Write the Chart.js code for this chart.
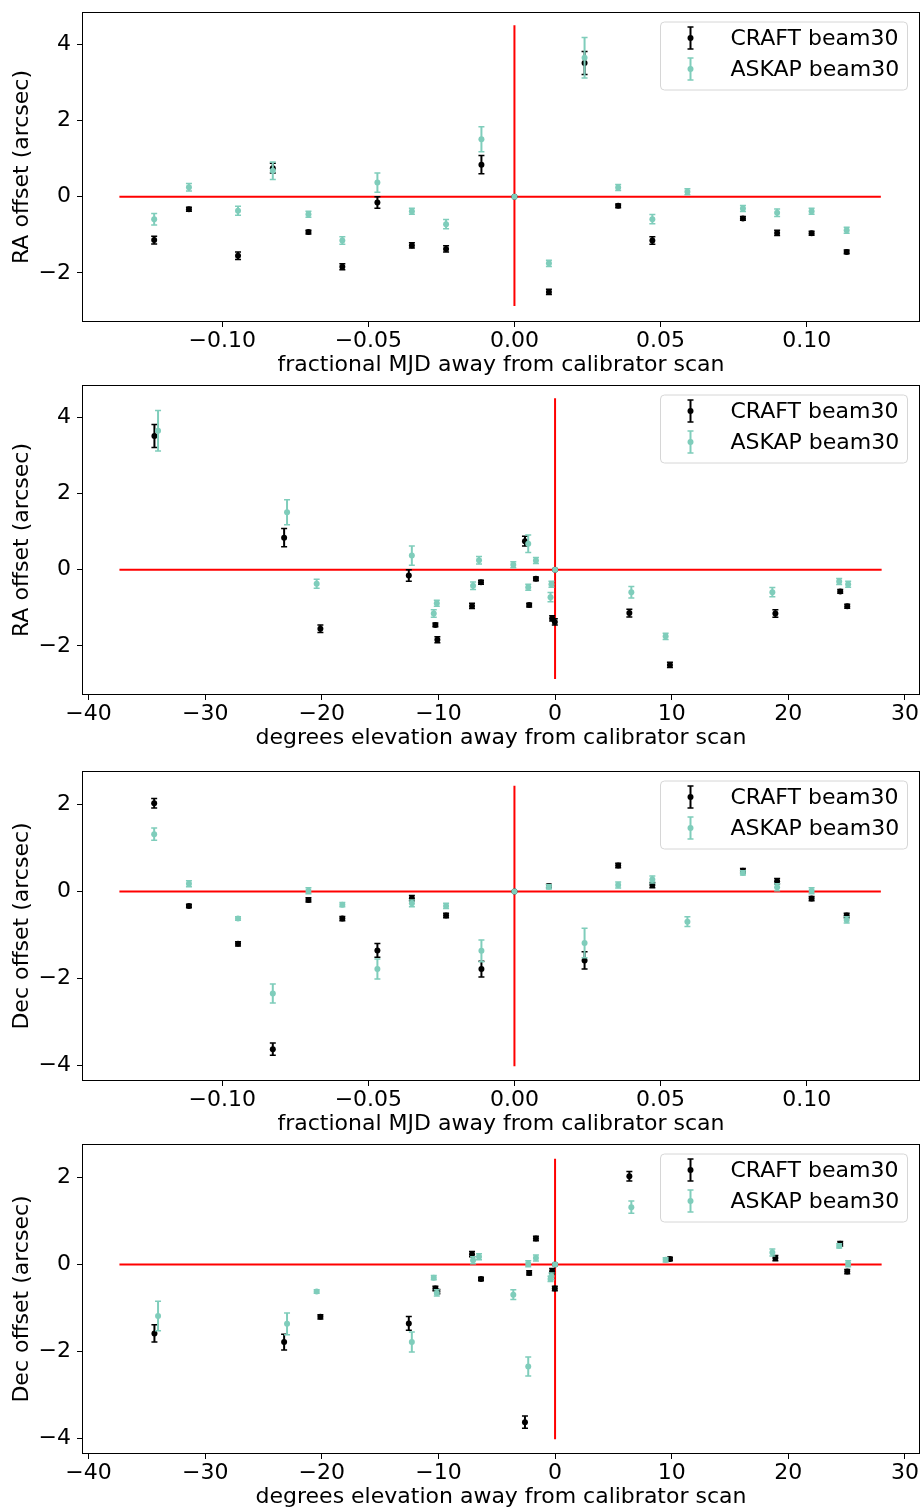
<!DOCTYPE html>
<html>
<head>
<meta charset="utf-8">
<title>beam30 position offsets</title>
<script src="https://cdn.jsdelivr.net/npm/chart.js@4.4.1/dist/chart.umd.min.js"></script>
<style>
  html, body { margin: 0; padding: 0; background: #fff; }
  body { width: 924px; height: 1508px; overflow: hidden; position: relative; }
  .panel { position: absolute; left: 0; width: 924px; height: 378px; }
</style>
</head>
<body>
<div class="panel" style="top:0px"><canvas id="raMjd"></canvas></div>
<div class="panel" style="top:373px"><canvas id="raElev"></canvas></div>
<div class="panel" style="top:759px"><canvas id="decMjd"></canvas></div>
<div class="panel" style="top:1132px"><canvas id="decElev"></canvas></div>
<script>
// scan times, fractional MJD away from the calibrator scan
const mjdOffset = [-0.1233, -0.1114, -0.0946, -0.0827, -0.0705, -0.0589, -0.0469, -0.0351, -0.0234, -0.0113,
  0, 0.0118, 0.0240, 0.0355, 0.0472, 0.0592, 0.0782, 0.0899, 0.1017, 0.1137];

// elevation offsets (deg), per scan, for each pipeline
const craftElev = [6.37, -6.35, -20.12, -2.58, -2.22, -10.09, -12.54, -0.25, -0.02, -23.23,
  0, 9.85, -34.35, -1.64, 18.89, null, 24.45, -7.12, 25.05, -10.26];
const askapElev = [6.54, -6.52, -20.44, -2.30, -2.30, -10.40, -12.28, -0.31, -0.39, -22.98,
  0, 9.48, -34.04, -1.64, 18.63, -3.58, 24.36, -7.03, 25.13, -10.14];

// RA offsets (arcsec) and errors
const craftRA = [-1.14, -0.33, -1.55, 0.75, -0.93, -1.84, -0.15, -1.28, -1.37, 0.84,
  0, -2.50, 3.51, -0.24, -1.15, null, -0.57, -0.95, -0.96, -1.45];
const craftRAErr = [0.10, 0.05, 0.10, 0.13, 0.05, 0.08, 0.15, 0.07, 0.08, 0.24,
  0, 0.07, 0.30, 0.05, 0.10, null, 0.05, 0.07, 0.05, 0.05];
const askapRA = [-0.59, 0.25, -0.37, 0.68, -0.46, -1.15, 0.37, -0.38, -0.72, 1.51,
  0, -1.75, 3.65, 0.24, -0.59, 0.13, -0.31, -0.42, -0.38, -0.88];
const askapRAErr = [0.15, 0.10, 0.12, 0.23, 0.08, 0.10, 0.25, 0.08, 0.12, 0.33,
  0, 0.08, 0.53, 0.08, 0.12, 0.08, 0.08, 0.10, 0.08, 0.08];

// Dec offsets (arcsec) and errors
const craftDec = [2.03, -0.33, -1.20, -3.62, -0.19, -0.62, -1.35, -0.15, -0.55, -1.78,
  0, 0.13, -1.58, 0.60, 0.15, null, 0.48, 0.24, -0.16, -0.55];
const craftDecErr = [0.11, 0.04, 0.05, 0.14, 0.05, 0.05, 0.16, 0.06, 0.05, 0.18,
  0, 0.04, 0.20, 0.05, 0.06, null, 0.05, 0.06, 0.05, 0.05];
const askapDec = [1.32, 0.18, -0.62, -2.34, 0.02, -0.30, -1.78, -0.27, -0.33, -1.36,
  0, 0.11, -1.18, 0.15, 0.28, -0.69, 0.43, 0.10, 0.02, -0.65];
const askapDecErr = [0.14, 0.07, 0.04, 0.22, 0.07, 0.05, 0.23, 0.08, 0.06, 0.25,
  0, 0.05, 0.34, 0.07, 0.08, 0.11, 0.05, 0.08, 0.07, 0.07];

// red zero lines (start, end) and axis limits
const mjdLineSpan = [-0.1352, 0.1254];
const elevLineSpan = [-37.35, 28.0];
const raLineSpan = [-2.87, 4.5];
const decLineSpan = [-4.01, 2.43];
const mjdLimits = [-0.148, 0.1388];
const elevLimits = [-40.56, 31.29];
const raLimits = [-3.29, 4.85];
const decLimits = [-4.35, 2.77];

// tick labels
const mjdTicks = [-0.10, -0.05, 0.00, 0.05, 0.10];
const elevTicks = [-40, -30, -20, -10, 0, 10, 20, 30];
const raTicks = [-2, 0, 2, 4];
const decTicks = [-4, -2, 0, 2];

const seriesNames = ["CRAFT beam30", "ASKAP beam30"];
const CRAFT_COLOR = "#000000";
const ASKAP_COLOR = "#7fcdbb";
const FONT = "'DejaVu Sans', 'Liberation Sans', sans-serif";

Chart.defaults.font.family = FONT;
Chart.defaults.font.size = 22;
Chart.defaults.color = "#000";

function points(xs, ys, errs) {
  const out = [];
  xs.forEach((x, i) => {
    if (x === null || ys[i] === null) return;
    out.push({ x: x, y: ys[i], err: errs[i] });
  });
  return out;
}

function fmt(v, digits) {
  return v.toFixed(digits).replace("-", "\u2212");
}

// vertical error bars, drawn under each dataset's markers
const errorBars = {
  id: "errorBars",
  beforeDatasetDraw(chart, args) {
    const ds = chart.data.datasets[args.index];
    if (!ds.isErrorbar) return;
    const ctx = chart.ctx;
    const xs = chart.scales.x;
    const ys = chart.scales.y;
    ctx.save();
    ctx.strokeStyle = ds.borderColor;
    ctx.lineWidth = 2;
    ds.data.forEach((p) => {
      if (!p.err) return;
      const px = xs.getPixelForValue(p.x);
      const top = ys.getPixelForValue(p.y + p.err);
      const bot = ys.getPixelForValue(p.y - p.err);
      ctx.beginPath();
      ctx.moveTo(px, top);
      ctx.lineTo(px, bot);
      ctx.stroke();
      ctx.lineWidth = 1.5;
      ctx.beginPath();
      ctx.moveTo(px - 3, top);
      ctx.lineTo(px + 3, top);
      ctx.moveTo(px - 3, bot);
      ctx.lineTo(px + 3, bot);
      ctx.stroke();
      ctx.lineWidth = 2;
    });
    ctx.restore();
  }
};

// axes frame on all four sides + legend box in the upper right
const frameAndLegend = {
  id: "frameAndLegend",
  afterDraw(chart) {
    const ctx = chart.ctx;
    const a = chart.chartArea;
    ctx.save();
    ctx.strokeStyle = "#000";
    ctx.lineWidth = 1;
    ctx.strokeRect(Math.round(a.left) + 0.5, Math.round(a.top) + 0.5,
      Math.round(a.right - a.left) - 1, Math.round(a.bottom - a.top) - 1);

    const w = 247, h = 68, r = 4;
    const x0 = a.right - 12.5 - w;
    const y0 = a.top + 10;
    ctx.beginPath();
    ctx.moveTo(x0 + r, y0);
    ctx.arcTo(x0 + w, y0, x0 + w, y0 + h, r);
    ctx.arcTo(x0 + w, y0 + h, x0, y0 + h, r);
    ctx.arcTo(x0, y0 + h, x0, y0, r);
    ctx.arcTo(x0, y0, x0 + w, y0, r);
    ctx.closePath();
    ctx.fillStyle = "rgba(255,255,255,0.8)";
    ctx.fill();
    ctx.strokeStyle = "#d6d6d6";
    ctx.stroke();

    const entries = chart.data.datasets.filter((d) => d.isErrorbar);
    entries.forEach((d, i) => {
      const cy = y0 + 16 + i * 31;
      const mx = x0 + 30;
      ctx.strokeStyle = d.borderColor;
      ctx.lineWidth = 2;
      ctx.beginPath();
      ctx.moveTo(mx, cy - 11);
      ctx.lineTo(mx, cy + 11);
      ctx.stroke();
      ctx.lineWidth = 1.5;
      ctx.beginPath();
      ctx.moveTo(mx - 3, cy - 11);
      ctx.lineTo(mx + 3, cy - 11);
      ctx.moveTo(mx - 3, cy + 11);
      ctx.lineTo(mx + 3, cy + 11);
      ctx.stroke();
      ctx.fillStyle = d.backgroundColor;
      ctx.beginPath();
      ctx.arc(mx, cy, 3, 0, Math.PI * 2);
      ctx.fill();
      ctx.fillStyle = "#000";
      ctx.font = "22px " + FONT;
      ctx.textAlign = "left";
      ctx.textBaseline = "middle";
      ctx.fillText(d.label, x0 + 70, cy + 1);
    });
    ctx.restore();
  }
};

function makePanel(id, cfg) {
  const datasets = [
    {
      label: seriesNames[0],
      isErrorbar: true,
      data: points(cfg.craftX, cfg.craftY, cfg.craftErr),
      borderColor: CRAFT_COLOR,
      backgroundColor: CRAFT_COLOR,
      pointRadius: 3,
      pointBorderWidth: 0,
      order: 2
    },
    {
      label: seriesNames[1],
      isErrorbar: true,
      data: points(cfg.askapX, cfg.askapY, cfg.askapErr),
      borderColor: ASKAP_COLOR,
      backgroundColor: ASKAP_COLOR,
      pointRadius: 3,
      pointBorderWidth: 0,
      order: 1
    },
    {
      label: "hline",
      data: [{ x: cfg.hSpan[0], y: 0 }, { x: cfg.hSpan[1], y: 0 }],
      showLine: true,
      borderColor: "#ff0000",
      borderWidth: 2,
      pointRadius: 0,
      order: 3
    },
    {
      label: "vline",
      data: [{ x: 0, y: cfg.vSpan[0] }, { x: 0, y: cfg.vSpan[1] }],
      showLine: true,
      borderColor: "#ff0000",
      borderWidth: 2,
      pointRadius: 0,
      order: 3
    }
  ];

  return new Chart(document.getElementById(id), {
    type: "scatter",
    data: { datasets: datasets },
    plugins: [errorBars, frameAndLegend],
    options: {
      responsive: true,
      maintainAspectRatio: false,
      animation: false,
      events: [],
      layout: { padding: { top: 12, right: 1, left: 0, bottom: 0 } },
      plugins: { legend: { display: false }, tooltip: { enabled: false } },
      scales: {
        x: {
          type: "linear",
          min: cfg.xLim[0],
          max: cfg.xLim[1],
          afterBuildTicks: (axis) => { axis.ticks = cfg.xTicks.map((v) => ({ value: v })); },
          afterFit: (axis) => {
            axis.height = 56;
            axis.paddingLeft = 0;
            axis.paddingRight = 0;
          },
          ticks: {
            autoSkip: false,
            maxRotation: 0,
            padding: 1,
            color: "#000",
            callback: (v) => fmt(v, cfg.xDigits)
          },
          grid: { drawOnChartArea: false, drawTicks: true, tickLength: 5, color: "#000" },
          border: { display: false },
          title: { display: true, text: cfg.xTitle, color: "#000", padding: { top: 0, bottom: 0 } }
        },
        y: {
          type: "linear",
          min: cfg.yLim[0],
          max: cfg.yLim[1],
          afterBuildTicks: (axis) => { axis.ticks = cfg.yTicks.map((v) => ({ value: v })); },
          afterFit: (axis) => {
            axis.width = 82;
            axis.paddingTop = 0;
            axis.paddingBottom = 0;
          },
          ticks: {
            autoSkip: false,
            padding: 6,
            color: "#000",
            callback: (v) => fmt(v, 0)
          },
          grid: { drawOnChartArea: false, drawTicks: true, tickLength: 5, color: "#000" },
          border: { display: false },
          title: { display: true, text: cfg.yTitle, color: "#000", padding: { top: 9, bottom: 0 } }
        }
      }
    }
  });
}

const mjdTitle = "fractional MJD away from calibrator scan";
const elevTitle = "degrees elevation away from calibrator scan";

makePanel("raMjd", {
  craftX: mjdOffset, craftY: craftRA, craftErr: craftRAErr,
  askapX: mjdOffset, askapY: askapRA, askapErr: askapRAErr,
  hSpan: mjdLineSpan, vSpan: raLineSpan,
  xLim: mjdLimits, yLim: raLimits, xTicks: mjdTicks, yTicks: raTicks, xDigits: 2,
  xTitle: mjdTitle, yTitle: "RA offset (arcsec)"
});

makePanel("raElev", {
  craftX: craftElev, craftY: craftRA, craftErr: craftRAErr,
  askapX: askapElev, askapY: askapRA, askapErr: askapRAErr,
  hSpan: elevLineSpan, vSpan: raLineSpan,
  xLim: elevLimits, yLim: raLimits, xTicks: elevTicks, yTicks: raTicks, xDigits: 0,
  xTitle: elevTitle, yTitle: "RA offset (arcsec)"
});

makePanel("decMjd", {
  craftX: mjdOffset, craftY: craftDec, craftErr: craftDecErr,
  askapX: mjdOffset, askapY: askapDec, askapErr: askapDecErr,
  hSpan: mjdLineSpan, vSpan: decLineSpan,
  xLim: mjdLimits, yLim: decLimits, xTicks: mjdTicks, yTicks: decTicks, xDigits: 2,
  xTitle: mjdTitle, yTitle: "Dec offset (arcsec)"
});

makePanel("decElev", {
  craftX: craftElev, craftY: craftDec, craftErr: craftDecErr,
  askapX: askapElev, askapY: askapDec, askapErr: askapDecErr,
  hSpan: elevLineSpan, vSpan: decLineSpan,
  xLim: elevLimits, yLim: decLimits, xTicks: elevTicks, yTicks: decTicks, xDigits: 0,
  xTitle: elevTitle, yTitle: "Dec offset (arcsec)"
});
</script>
</body>
</html>
